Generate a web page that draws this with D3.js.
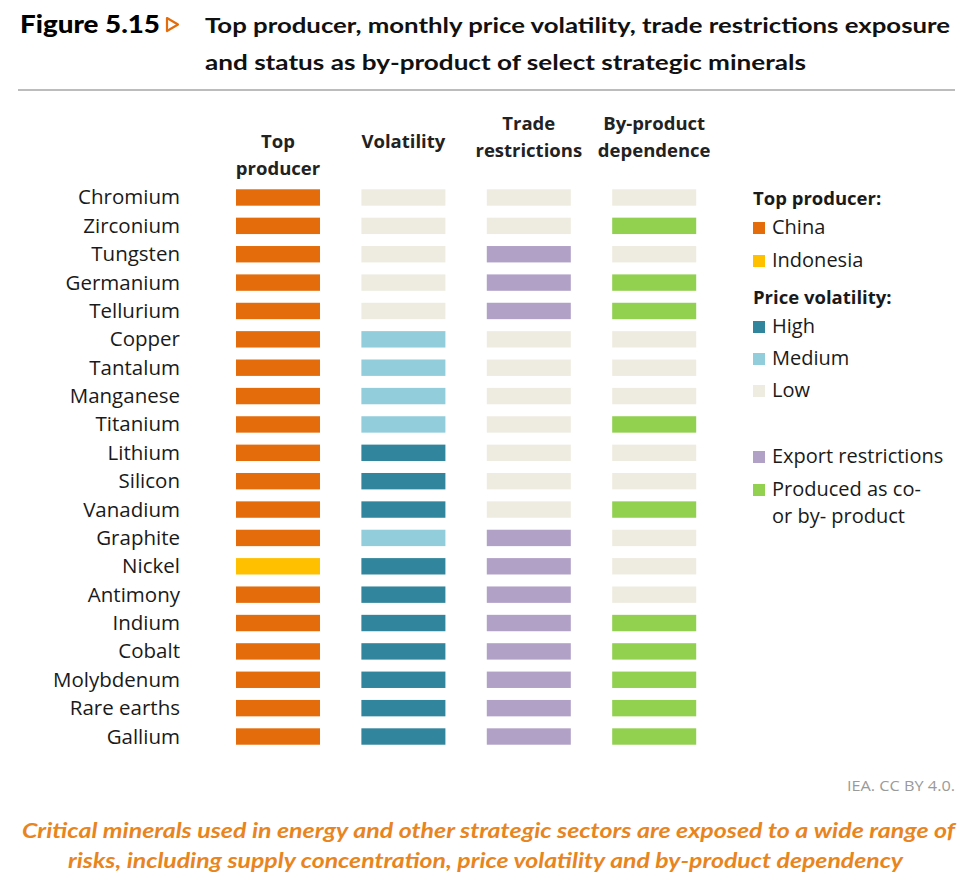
<!DOCTYPE html>
<html>
<head>
<meta charset="utf-8">
<script src="https://cdn.jsdelivr.net/npm/d3@7"></script>
<style>
  body { margin: 0; background: #fff; }
  svg { display: block; }
</style>
</head>
<body>
<div id="chart"></div>
<script>
// minerals, top to bottom
var minerals = ['Chromium','Zirconium','Tungsten','Germanium','Tellurium','Copper','Tantalum','Manganese',
  'Titanium','Lithium','Silicon','Vanadium','Graphite','Nickel','Antimony','Indium','Cobalt',
  'Molybdenum','Rare earths','Gallium'];

var topProducer = ['China','China','China','China','China','China','China','China','China','China',
  'China','China','China','Indonesia','China','China','China','China','China','China'];

var volatility = ['Low','Low','Low','Low','Low','Medium','Medium','Medium','Medium','High',
  'High','High','Medium','High','High','High','High','High','High','High'];

// 1 = export restrictions, 0 = none
var tradeRestrictions = [0,0,1,1,1,0,0,0,0,0,0,0,1,1,1,1,1,1,1,1];

// 1 = produced as co- or by-product, 0 = not
var byProduct = [0,1,0,1,1,0,0,0,1,0,0,1,0,0,0,1,1,1,1,1];

var columns = ['Top producer','Volatility','Trade restrictions','By-product dependence'];
var columnHeaders = [['Top','producer'],['Volatility'],['Trade','restrictions'],['By-product','dependence']];

var colors = {
  China: '#E46C0A', Indonesia: '#FFC000',
  High: '#31859C', Medium: '#92CDDC', Low: '#EEECE1',
  export: '#B2A1C7', byprod: '#92D050', none: '#EEECE1'
};

var width = 978, height = 886;
var font = '"Open Sans", "Noto Sans", sans-serif';
var titleFont = '"Lato", "DejaVu Sans", sans-serif';

var svg = d3.select('#chart').append('svg')
  .attr('width', width)
  .attr('height', height);

// ---- title
svg.append('text')
  .attr('x', 20).attr('y', 33)
  .attr('textLength', 140).attr('lengthAdjust', 'spacingAndGlyphs')
  .style('font-family', titleFont).style('font-weight', 900).style('font-size', '25px')
  .attr('fill', '#000')
  .text('Figure 5.15');

svg.append('path')
  .attr('d', 'M167,18 L178,24.5 L167,31 Z')
  .attr('fill', 'none')
  .attr('stroke', '#E46C0A')
  .attr('stroke-width', 2.2)
  .attr('stroke-linejoin', 'round');

var titleLines = [
  {t: 'Top producer, monthly price volatility, trade restrictions exposure', y: 33, w: 745},
  {t: 'and status as by-product of select strategic minerals', y: 70, w: 601}
];
svg.selectAll('.title').data(titleLines).enter()
  .append('text')
    .attr('class', 'title')
    .attr('x', 205).attr('y', function(d){ return d.y; })
    .attr('textLength', function(d){ return d.w; })
    .attr('lengthAdjust', 'spacingAndGlyphs')
    .style('font-family', titleFont).style('font-weight', 700).style('font-size', '21px')
    .attr('fill', '#111')
    .text(function(d){ return d.t; });

svg.append('line')
  .attr('x1', 18).attr('x2', 955)
  .attr('y1', 90).attr('y2', 90)
  .attr('stroke', '#a6a6a6').attr('stroke-width', 1.5);

// ---- scales
var y = d3.scaleBand()
  .domain(minerals)
  .range([183.3, 750.7])
  .paddingInner(0.422)
  .paddingOuter(0.211);

var x = d3.scaleBand()
  .domain(columns)
  .range([215.3, 716.9])
  .paddingInner(0.33)
  .paddingOuter(0.165);

// ---- column headers
columns.forEach(function(c, i){
  var lines = columnHeaders[i];
  var base = lines.length === 1 ? 148 : (i === 0 ? 148 : 130);
  var t = svg.append('text')
    .attr('text-anchor', 'middle')
    .style('font-family', font).style('font-weight', 700).style('font-size', '18.5px')
    .attr('fill', '#222');
  lines.forEach(function(l, j){
    t.append('tspan')
      .attr('x', x(c) + x.bandwidth() / 2)
      .attr('y', base + j * 27)
      .text(l);
  });
});

// ---- row labels
svg.selectAll('.rowLabel').data(minerals).enter()
  .append('text')
    .attr('class', 'rowLabel')
    .attr('x', 180)
    .attr('y', function(d){ return y(d) + y.bandwidth() / 2 + 7; })
    .attr('text-anchor', 'end')
    .style('font-family', font).style('font-size', '20.5px')
    .attr('fill', '#1a1a1a')
    .text(function(d){ return d; });

// ---- cells
var cells = [];
minerals.forEach(function(m, i){
  cells.push({m: m, col: columns[0], fill: colors[topProducer[i]]});
  cells.push({m: m, col: columns[1], fill: colors[volatility[i]]});
  cells.push({m: m, col: columns[2], fill: tradeRestrictions[i] ? colors.export : colors.none});
  cells.push({m: m, col: columns[3], fill: byProduct[i] ? colors.byprod : colors.none});
});

svg.selectAll('.cell').data(cells).enter()
  .append('rect')
    .attr('class', 'cell')
    .attr('x', function(d){ return x(d.col); })
    .attr('y', function(d){ return y(d.m); })
    .attr('width', x.bandwidth())
    .attr('height', y.bandwidth())
    .attr('fill', function(d){ return d.fill; });

// ---- legend
var legend = [
  {type: 'head', text: 'Top producer:', y: 205},
  {type: 'item', text: 'China', y: 234, color: colors.China},
  {type: 'item', text: 'Indonesia', y: 267, color: colors.Indonesia},
  {type: 'head', text: 'Price volatility:', y: 304},
  {type: 'item', text: 'High', y: 333, color: colors.High},
  {type: 'item', text: 'Medium', y: 365, color: colors.Medium},
  {type: 'item', text: 'Low', y: 397, color: colors.Low},
  {type: 'item', text: 'Export restrictions', y: 463, color: colors.export},
  {type: 'item', text: 'Produced as co-', y: 496, color: colors.byprod},
  {type: 'item', text: 'or by- product', y: 523}
];

var lg = svg.append('g');
lg.selectAll('rect').data(legend.filter(function(d){ return d.color; })).enter()
  .append('rect')
    .attr('x', 753)
    .attr('y', function(d){ return d.y - 12; })
    .attr('width', 12).attr('height', 12)
    .attr('fill', function(d){ return d.color; });

lg.selectAll('text').data(legend).enter()
  .append('text')
    .attr('x', function(d){ return d.type === 'head' ? 753 : 772; })
    .attr('y', function(d){ return d.y; })
    .style('font-family', font)
    .style('font-weight', function(d){ return d.type === 'head' ? 700 : 400; })
    .style('font-size', function(d){ return d.type === 'head' ? '18.5px' : '20px'; })
    .attr('fill', '#1a1a1a')
    .text(function(d){ return d.text; });

// ---- source + caption
svg.append('text')
  .attr('x', 955).attr('y', 791)
  .attr('text-anchor', 'end')
  .attr('textLength', 108).attr('lengthAdjust', 'spacingAndGlyphs')
  .style('font-family', font).style('font-size', '14px')
  .attr('fill', '#9a9a9a')
  .text('IEA. CC BY 4.0.');

var caption = [
  {t: 'Critical minerals used in energy and other strategic sectors are exposed to a wide range of', x: 22, y: 838, w: 933},
  {t: 'risks, including supply concentration, price volatility and by-product dependency', x: 68, y: 868, w: 835}
];
svg.selectAll('.caption').data(caption).enter()
  .append('text')
    .attr('class', 'caption')
    .attr('x', function(d){ return d.x; })
    .attr('y', function(d){ return d.y; })
    .attr('textLength', function(d){ return d.w; })
    .attr('lengthAdjust', 'spacingAndGlyphs')
    .style('font-family', titleFont).style('font-weight', 700).style('font-style', 'italic')
    .style('font-size', '20px')
    .attr('fill', '#E8851E')
    .text(function(d){ return d.text || d.t; });
</script>
</body>
</html>
